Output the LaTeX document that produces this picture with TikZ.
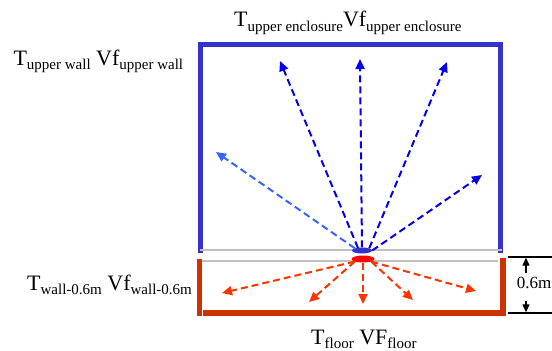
\documentclass[tikz,border=0pt]{standalone}
\usepackage{fontspec}
\setmainfont{Liberation Serif}
\usetikzlibrary{arrows.meta,shapes.geometric}
\definecolor{encblue}{HTML}{3333CC}
\definecolor{arrblue}{HTML}{0000EE}
\definecolor{lightarr}{HTML}{3366FF}
\definecolor{wallred}{HTML}{CC3300}
\definecolor{arrred}{HTML}{FF3300}
\definecolor{grayline}{HTML}{C0C0C0}
\newcommand{\lbl}[2]{#1\raisebox{-4.5pt}{\fontsize{15}{15}\selectfont #2}}
\tikzset{
  lab/.style={font=\fontsize{22}{22}\selectfont, inner sep=0pt, anchor=base west},
  encl/.style={draw=encblue, line width=5pt},
  wall/.style={draw=wallred, line width=5.5pt},
  gline/.style={draw=grayline, line width=2pt},
  bluearrow/.style={draw=arrblue, line width=2pt, dash pattern=on 7pt off 4pt, -{Triangle[length=10pt,width=9pt]}},
  ltarrow/.style={bluearrow, draw=lightarr},
  redarrow/.style={draw=arrred, line width=2pt, dash pattern=on 7pt off 4pt, -{Triangle[length=10pt,width=9pt]}},
  dimline/.style={draw=black, line width=1.3pt},
  dimarrow/.style={draw=black, line width=1.3pt, -{Triangle[length=8pt,width=7pt]}},
}
\begin{document}
\begin{tikzpicture}[x=1pt,y=-1pt]
\useasboundingbox (0,0) rectangle (552,351);
% upper enclosure
\draw[encl] (200,253) -- (200,44.5) -- (500,44.5) -- (500,253);
% red lower walls
\draw[wall] (199.5,259) -- (199.5,316);
\draw[wall] (503,258) -- (503,315.5);
\draw[wall] (203,313) -- (500,313);
% gray lines
\draw[gline] (200,249.5) -- (502,249.5);
\draw[gline] (202,261) -- (498,261);
% sources
\node[ellipse, fill=encblue, minimum width=20pt, minimum height=6pt, inner sep=0pt] (be) at (362,250.5) {};
\node[ellipse, fill=red, minimum width=23pt, minimum height=7pt, inner sep=0pt] (re) at (363,259) {};
% blue arrow tips
\coordinate (bs1) at (358,248);
\coordinate (b1) at (280,61);
\coordinate (b2) at (360,59);
\coordinate (b3) at (447,62);
\coordinate (b4) at (216,152);
\coordinate (b5) at (482,175);
\draw[bluearrow] (bs1) -- (b1);
\draw[bluearrow] (be.north) -- (b2);
\draw[bluearrow] (be.north east) -- (b3);
\draw[ltarrow] (be.north west) -- (b4);
\draw[bluearrow] (be.east) -- (b5);
% red arrow tips
\coordinate (r1) at (222,293);
\coordinate (r2) at (309,302);
\coordinate (r3) at (363,304);
\coordinate (r4) at (413,300);
\coordinate (r5) at (476,291);
\draw[redarrow] (re.south west) -- (r1);
\draw[redarrow] (re.south west) -- (r2);
\draw[redarrow] (re.south) -- (r3);
\draw[redarrow] (re.south east) -- (r4);
\draw[redarrow] (re.south east) -- (r5);
% dimension
\coordinate (dt1) at (508,257);
\coordinate (dt2) at (552,257);
\coordinate (db1) at (508,313);
\coordinate (db2) at (552,313);
\draw[dimline] (dt1) -- (dt2);
\draw[dimline] (db1) -- (db2);
\node[font=\fontsize{17}{17}\selectfont, inner sep=0pt, anchor=base] (dim) at (534,288.5) {0.6m};
\coordinate (ua) at (526,273);
\coordinate (ut) at (526,257.7);
\coordinate (da) at (526,301);
\coordinate (dtp) at (526,312.3);
\draw[dimarrow] (ua) -- (ut);
\draw[dimarrow] (da) -- (dtp);
% labels
\node[lab] (tue) at (234,26.7) {\lbl{T}{upper enclosure}\lbl{Vf}{upper enclosure}};
\node[lab] (tuw) at (13.3,65) {\lbl{T}{upper wall} \lbl{Vf}{upper wall}};
\node[lab] (tw) at (27,290) {\lbl{T}{wall-0.6m} \lbl{Vf}{wall-0.6m}};
\node[lab] (tf) at (311,344) {\lbl{T}{floor} \lbl{VF}{floor}};
\end{tikzpicture}
\end{document}
